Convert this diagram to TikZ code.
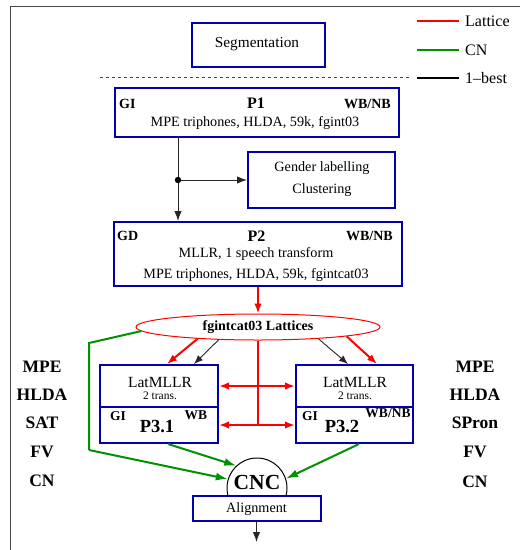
\documentclass[tikz,border=0pt]{standalone}
\usepackage{fontspec}
\setmainfont{Liberation Serif}
\usetikzlibrary{arrows.meta,shapes.geometric}
\definecolor{boxblue}{RGB}{0,0,175}
\definecolor{cngreen}{RGB}{0,145,0}
\definecolor{framegray}{RGB}{70,70,70}
\begin{document}
\begin{tikzpicture}[x=1pt,y=-1pt,
  box/.style={draw=boxblue, line width=2pt, inner sep=0pt},
  txt/.style={inner sep=0pt, font=\fontsize{14.2}{16}\selectfont},
  segtxt/.style={inner sep=0pt, font=\fontsize{15.3}{17}\selectfont},
  smalltxt/.style={inner sep=0pt, font=\fontsize{11.5}{13}\selectfont},
  midtxt/.style={inner sep=0pt, font=\fontsize{15.5}{18}\selectfont},
  btxt/.style={inner sep=0pt, font=\fontsize{14}{16}\selectfont\bfseries},
  stxt/.style={inner sep=0pt, font=\fontsize{13.5}{15}\selectfont\bfseries},
  ptxt/.style={inner sep=0pt, font=\fontsize{16}{18}\selectfont\bfseries},
  p3txt/.style={inner sep=0pt, font=\fontsize{18.5}{20}\selectfont\bfseries},
  side/.style={inner sep=0pt, font=\fontsize{17.5}{20}\selectfont\bfseries},
  leg/.style={inner sep=0pt, font=\fontsize{16}{18}\selectfont},
  latline/.style={red, line width=2pt},
  latarrow/.style={red, line width=2pt, -{Latex[length=10pt,width=7.5pt]}},
  latdouble/.style={red, line width=2pt, {Latex[length=10pt,width=7.5pt]}-{Latex[length=10pt,width=7.5pt]}},
  cnline/.style={cngreen, line width=2pt},
  cnarrow/.style={cngreen, line width=2pt, -{Latex[length=12pt,width=8pt]}},
  bestarrow/.style={black!85, line width=1pt, -{Latex[length=10pt,width=7.5pt]}},
  thinarrow/.style={black!85, line width=0.9pt, -{Latex[length=9pt,width=7pt]}}
]
\useasboundingbox (0,0) rectangle (520,550);

% frame
\coordinate (f1) at (10,550);
\coordinate (f2) at (10,6);
\coordinate (f3) at (520,6);
\draw[framegray, line width=1pt] (f1) -- (f2) -- (f3);

% legend
\coordinate (l1a) at (417,21); \coordinate (l1b) at (459,21);
\coordinate (l2a) at (417,50); \coordinate (l2b) at (459,50);
\coordinate (l3a) at (417,78); \coordinate (l3b) at (459,78);
\draw[latline] (l1a) -- (l1b);
\draw[cnline] (l2a) -- (l2b);
\draw[black, line width=2pt] (l3a) -- (l3b);
\node[leg, anchor=west] (lt1) at (465,21) {Lattice};
\node[leg, anchor=west] (lt2) at (465,50) {CN};
\node[leg, anchor=west] (lt3) at (465,78) {1--best};

% dashed separator
\coordinate (d1) at (100,77); \coordinate (d2) at (410,77);
\draw[framegray, line width=0.9pt, dash pattern=on 3pt off 3pt] (d1) -- (d2);

% segmentation
\node[box, minimum width=133pt, minimum height=44pt] (seg) at (258.5,45) {};
\node[segtxt] (segt) at (257,44.5) {Segmentation};

% P1
\node[box, minimum width=284pt, minimum height=49pt] (p1) at (257,112.5) {};
\node[btxt, anchor=west] (p1gi) at (119,104) {GI};
\node[ptxt] (p1n) at (256,103) {P1};
\node[btxt, anchor=east] (p1wb) at (391,104) {WB/NB};
\node[txt] (p1d) at (255,123) {MPE triphones, HLDA, 59k, fgint03};

% gender
\node[box, minimum width=147pt, minimum height=56pt] (gen) at (321.5,180) {};
\node[txt] (gen1) at (322,168) {Gender labelling};
\node[txt] (gen2) at (322,190) {Clustering};

% P2
\node[box, minimum width=288pt, minimum height=64pt] (p2) at (258,254) {};
\node[btxt, anchor=west] (p2gd) at (117,236) {GD};
\node[ptxt] (p2n) at (256.5,236) {P2};
\node[btxt, anchor=east] (p2wb) at (393,236) {WB/NB};
\node[txt] (p2d1) at (256,254) {MLLR, 1 speech transform};
\node[txt] (p2d2) at (256,275) {MPE triphones, HLDA, 59k, fgintcat03};

% P1 -> P2, gender
\coordinate (dot) at (178,180);
\draw[black!85, line width=1pt] (p1.south -| dot) -- (dot);
\draw[bestarrow] (dot) -- (dot |- p2.north);
\draw[bestarrow] (dot) -- (gen.west);
\fill[black] (dot) circle (3.2pt);

% lattices ellipse
\node[ellipse, draw=red, line width=1pt, minimum width=244pt, minimum height=26pt, inner sep=0pt] (ell) at (258,327) {};
\node[btxt] (ellt) at (258,327) {fgintcat03 Lattices};
\draw[latarrow] (p2.south) -- (ell.north);

% P3 boxes
\node[box, minimum width=118pt, minimum height=78pt] (p31) at (159,404) {};
\node[box, minimum width=117pt, minimum height=78pt] (p32) at (354.5,404) {};
\coordinate (dv) at (0,407);
\draw[boxblue, line width=2pt] (p31.west |- dv) -- (p31.east |- dv);
\draw[boxblue, line width=2pt] (p32.west |- dv) -- (p32.east |- dv);
\node[midtxt] (p31a) at (160,382) {LatMLLR};
\node[smalltxt] (p31b) at (160,396) {2 trans.};
\node[midtxt] (p32a) at (355,382) {LatMLLR};
\node[smalltxt] (p32b) at (355,396) {2 trans.};
\node[stxt] (p31gi) at (118,416) {GI};
\node[p3txt] (p31n) at (157,426) {P3.1};
\node[stxt] (p31wb) at (196,415) {WB};
\node[stxt] (p32gi) at (310,416) {GI};
\node[p3txt] (p32n) at (342,426) {P3.2};
\node[stxt] (p32wb) at (388,413) {WB/NB};

% ellipse -> P3
\draw[latarrow] (ell.191) -- ([xshift=8pt]p31.north);
\draw[thinarrow] (ell.198) -- ([xshift=35pt]p31.north);
\draw[thinarrow] (ell.349) -- ([xshift=-6.5pt]p32.north);
\draw[latarrow] (ell.354) -- ([xshift=22.5pt]p32.north);

% lattice exchange
\coordinate (ha) at (0,386);
\coordinate (hb) at (0,425);
\draw[latline] (ell.south) -- (ell.south |- hb);
\draw[latdouble] (p31.east |- ha) -- (p32.west |- ha);
\draw[latdouble] (p31.east |- hb) -- (p32.west |- hb);

% side labels
\node[side] (lm1) at (42,367) {MPE};
\node[side] (lm2) at (42,395) {HLDA};
\node[side] (lm3) at (42,423) {SAT};
\node[side] (lm4) at (42,452) {FV};
\node[side] (lm5) at (42,481) {CN};
\node[side] (rm1) at (475,367) {MPE};
\node[side] (rm2) at (475,395) {HLDA};
\node[side] (rm3) at (475,423) {SPron};
\node[side] (rm4) at (475,452) {FV};
\node[side] (rm5) at (475,482) {CN};

% CNC
\node[circle, draw=black, line width=1pt, minimum size=60pt, inner sep=0pt] (cnc) at (257,488) {};
\node[inner sep=0pt, font=\fontsize{21.5}{24}\selectfont\bfseries] (cnct) at (257,482) {CNC};
\node[box, fill=white, minimum width=128pt, minimum height=25pt] (al) at (256.5,508.5) {};
\node[txt] (alt) at (256.5,509) {Alignment};
\coordinate (out) at (256.5,542);
\draw[bestarrow] (al.south) -- (out);

% CN arrows
\coordinate (g1) at (89,343);
\coordinate (g2) at (89,450);
\draw[cnline] (ell.182) -- (g1) -- (g2);
\draw[cnarrow] (g2) -- (cnc.163);
\draw[cnarrow] ([xshift=9pt]p31.south) -- (cnc.133);
\draw[cnarrow] ([xshift=4.5pt]p32.south) -- (cnc.18);
\end{tikzpicture}
\end{document}
